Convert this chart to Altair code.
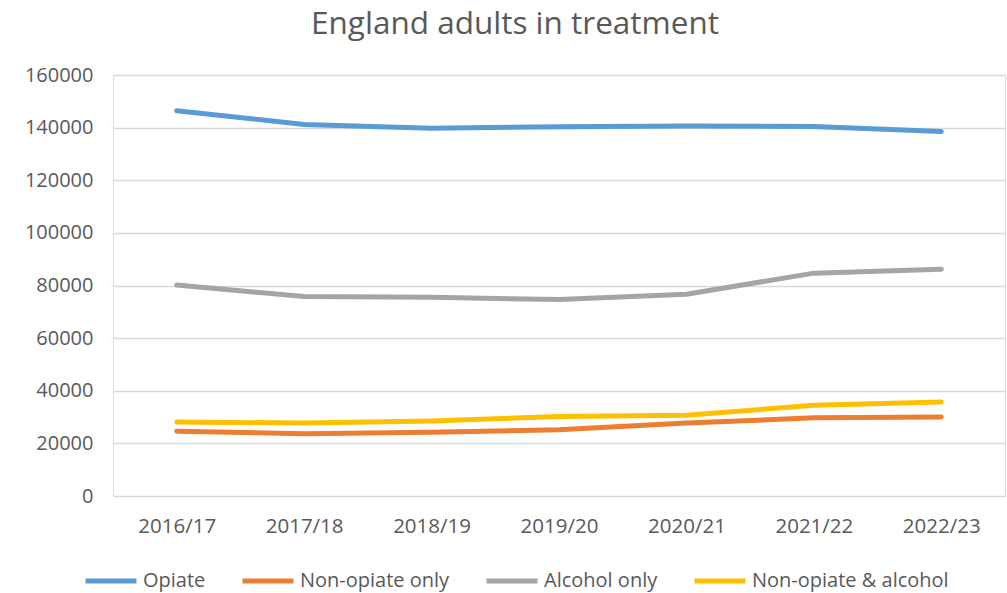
import altair as alt
import pandas as pd

years = ["2016/17", "2017/18", "2018/19", "2019/20", "2020/21", "2021/22", "2022/23"]
series_names = ["Opiate", "Non-opiate only", "Alcohol only", "Non-opiate & alcohol"]
opiate = [146400, 141200, 139800, 140300, 140600, 140400, 138500]
non_opiate_only = [24600, 23700, 24200, 25200, 27700, 29700, 30000]
alcohol_only = [80200, 75800, 75550, 74650, 76700, 84700, 86200]
non_opiate_alcohol = [28100, 27750, 28500, 30200, 30700, 34500, 35700]
colors = ["#5B9BD5", "#ED7D31", "#A5A5A5", "#FFC000"]
y_ticks = list(range(0, 160001, 20000))

rows = []
for name, vals in zip(series_names, [opiate, non_opiate_only, alcohol_only, non_opiate_alcohol]):
    for yr, v in zip(years, vals):
        rows.append({"year": yr, "series": name, "value": v})
df = pd.DataFrame(rows)

FONT = "Open Sans"
TEXT = "#595959"

chart = (
    alt.Chart(df)
    .mark_line(strokeWidth=5, strokeCap="round", strokeJoin="round")
    .encode(
        x=alt.X("year:N", sort=years, title=None,
                scale=alt.Scale(paddingInner=0, paddingOuter=0),
                axis=alt.Axis(labelAngle=0, labelFontSize=20.5, labelColor=TEXT,
                              labelFont=FONT, labelPadding=20, ticks=False,
                              domain=False, grid=False)),
        y=alt.Y("value:Q", title=None,
                scale=alt.Scale(domain=[0, 160000], nice=False),
                axis=alt.Axis(values=y_ticks, format="d", labelFontSize=20,
                              labelColor=TEXT, labelFont=FONT, labelPadding=20,
                              ticks=False, domain=False, gridColor="#D9D9D9",
                              gridWidth=1.3)),
        color=alt.Color("series:N", sort=series_names,
                        scale=alt.Scale(domain=series_names, range=colors),
                        legend=alt.Legend(orient="none", legendX=-30, legendY=478,
                                          direction="horizontal", title=None,
                                          padding=0,
                                          symbolType="stroke", symbolSize=2600,
                                          symbolStrokeWidth=5,
                                          labelFontSize=20, labelColor=TEXT,
                                          labelFont=FONT, labelOffset=4,
                                          columnPadding=26, labelLimit=300)),
        order=alt.Order("series:N"),
    )
    .properties(
        width=892,
        height=421,
        title=alt.TitleParams("England adults in treatment", fontSize=31.5,
                              font=FONT, fontWeight="normal", color=TEXT,
                              anchor="middle", dx=-44, offset=25),
        autosize=alt.AutoSizeParams(type="none"),
        padding={"left": 113, "top": 75, "right": 2, "bottom": 97},
    )
    .configure_view(stroke=None)
    .configure(background="white")
)

chart.save("out.html", embed_options={"renderer": "svg", "actions": False})
